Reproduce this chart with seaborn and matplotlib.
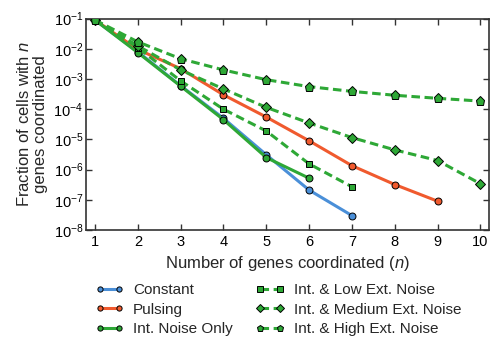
import numpy as np
import pandas as pd
import matplotlib
matplotlib.use("Agg")
import matplotlib.pyplot as plt
import seaborn as sns

# data
labels = ["Constant", "Pulsing", "Int. Noise Only",
          "Int. & Low Ext. Noise", "Int. & Medium Ext. Noise", "Int. & High Ext. Noise"]
constant = [0.09, 8.0e-3, 6.0e-4, 5.0e-5, 3.1e-6, 2.1e-7, 3.0e-8]
pulsing = [0.09, 9.5e-3, 2.2e-3, 3.0e-4, 5.5e-5, 9.0e-6, 1.35e-6, 3.2e-7, 9.0e-8]
int_only = [0.09, 7.5e-3, 5.8e-4, 4.5e-5, 2.5e-6, 5.2e-7]
low_ext = [0.09, 1.1e-2, 8.7e-4, 1.0e-4, 1.9e-5, 1.55e-6, 2.7e-7]
med_ext = [0.09, 1.25e-2, 2.0e-3, 4.7e-4, 1.15e-4, 3.5e-5, 1.15e-5, 4.5e-6, 2.0e-6, 3.4e-7]
high_ext = [0.09, 1.7e-2, 4.7e-3, 2.0e-3, 9.5e-4, 5.6e-4, 3.9e-4, 2.9e-4, 2.3e-4, 1.86e-4]

series = [constant, pulsing, int_only, low_ext, med_ext, high_ext]
colors = ["#4a8fd8", "#f05a2e", "#2ea836", "#2ea836", "#2ea836", "#2ea836"]
markers = ["o", "o", "o", "s", "D", "p"]
msizes = [5, 5, 5, 5, 5, 6.5]
dashed = [False, False, False, True, True, True]

sns.set_style("ticks")
plt.rcParams["font.family"] = ["Liberation Sans", "DejaVu Sans"]
plt.rcParams["mathtext.fontset"] = "custom"
plt.rcParams["mathtext.rm"] = "Liberation Sans"
plt.rcParams["mathtext.it"] = "Liberation Sans:italic"

fig = plt.figure(figsize=(4.9, 3.39), dpi=100)
ax = fig.add_axes([0.1755, 0.3215, 0.8225, 0.6235])

for lab, vals, c, m, ms, d in zip(labels, series, colors, markers, msizes, dashed):
    df = pd.DataFrame({"n": np.arange(1, len(vals) + 1), "frac": vals})
    sns.lineplot(data=df, x="n", y="frac", ax=ax, color=c, marker=m,
                 markersize=ms, markeredgecolor="black", markeredgewidth=0.7,
                 linewidth=2.2, linestyle=(0, (2.8, 1.5)) if d else "-",
                 label=lab, zorder=3)

ax.set_yscale("log")
ax.set_ylim(1e-8, 1e-1)
ax.set_xlim(0.79, 10.2)
ax.set_xticks(range(1, 11))
ax.set_yticks([10.0 ** k for k in range(-8, 0)])
ax.tick_params(which="both", direction="in", top=True, right=True, labelsize=10.5,
               colors="#333333", labelcolor="black")
ax.tick_params(which="major", length=4, width=1)
ax.tick_params(which="minor", length=2, width=0.8)
ax.tick_params(axis="x", which="minor", bottom=False, top=False)
ax.tick_params(axis="y", pad=2)
for s in ax.spines.values():
    s.set_linewidth(1.2)
    s.set_color("#333333")

ax.set_xlabel("Number of genes coordinated ($\\it{n}$)", fontsize=12, labelpad=4)
ax.set_ylabel("Fraction of cells with $\\it{n}$\ngenes coordinated", fontsize=12,
              labelpad=4, linespacing=1.1)

handles, labs = ax.get_legend_handles_labels()
ax.get_legend().remove()
fig.legend(handles, labs, ncol=2, loc="upper left",
           bbox_to_anchor=(95 / 490, 1 - 283 / 339),
           frameon=False, fontsize=11, numpoints=2, handlelength=1.9,
           columnspacing=1.5, labelspacing=0.37, handletextpad=0.6,
           borderpad=0, borderaxespad=0, markerscale=0.75)

fig.savefig("out.png", dpi=100)
